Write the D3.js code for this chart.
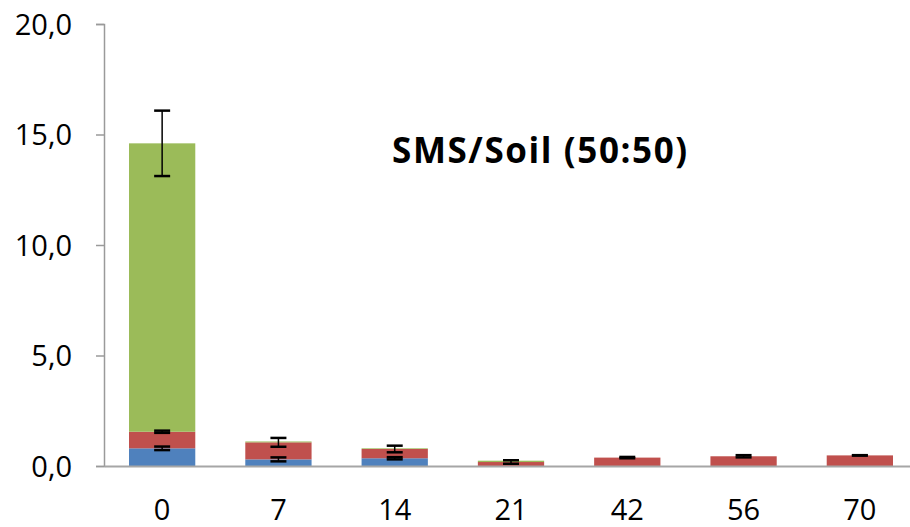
<!DOCTYPE html>
<html>
<head>
<meta charset="utf-8">
<script src="https://cdn.jsdelivr.net/npm/d3@7/dist/d3.min.js"></script>
<style>
  html, body { margin: 0; padding: 0; background: #fff; }
  svg { display: block; }
</style>
</head>
<body>
<svg id="chart" width="910" height="527"></svg>
<script>
const categories = ["0", "7", "14", "21", "42", "56", "70"];
const blueValues  = [0.80, 0.30, 0.35, 0.00, 0.00, 0.00, 0.00];
const redValues   = [0.75, 0.77, 0.42, 0.18, 0.38, 0.44, 0.48];
const greenValues = [13.05, 0.04, 0.03, 0.06, 0.00, 0.00, 0.00];
const blueErr  = [0.08, 0.09, 0.05, 0.00, 0.00, 0.00, 0.00];
const redErr   = [0.05, 0.20, 0.15, 0.08, 0.03, 0.05, 0.01];
const greenErr = [1.48, 0.00, 0.00, 0.00, 0.00, 0.00, 0.00];
const yTicks = [0, 5, 10, 15, 20];
const title = "SMS/Soil (50:50)";

const seriesNames = ["blue", "red", "green"];
const colors = { blue: "#4F81BD", red: "#C0504D", green: "#9BBB59" };
const errs = { blue: blueErr, red: redErr, green: greenErr };

const table = categories.map((c, i) => ({
  cat: c, blue: blueValues[i], red: redValues[i], green: greenValues[i]
}));

const svg = d3.select("#chart");
const x = d3.scaleBand().domain(categories).range([104, 918]).paddingInner(0.43).paddingOuter(0.215);
const y = d3.scaleLinear().domain([0, 20]).range([466, 24]);

const stack = d3.stack().keys(seriesNames)(table);

// bars
svg.append("g").selectAll("g").data(stack).join("g")
  .attr("fill", d => colors[d.key])
  .selectAll("rect").data(d => d).join("rect")
  .attr("x", d => x(d.data.cat))
  .attr("width", x.bandwidth())
  .attr("y", d => y(d[1]))
  .attr("height", d => Math.max(0, y(d[0]) - y(d[1])));

// axes
const yAxis = d3.axisLeft(y).tickValues(yTicks).tickSize(8)
  .tickFormat(d => d3.format(".1f")(d).replace(".", ","));
const gy = svg.append("g").attr("transform", "translate(104,0)").call(yAxis);
gy.select(".domain").attr("stroke", "#9a9a9a").attr("stroke-width", 1.5);
gy.selectAll(".tick line").attr("stroke", "#9a9a9a").attr("stroke-width", 1.5);
gy.selectAll(".tick text").attr("x", -32).attr("dy", "0.36em")
  .attr("font-family", "'Open Sans', sans-serif").attr("font-size", 29).attr("fill", "#000");

const xAxis = d3.axisBottom(x).tickSize(0).tickSizeOuter(0);
const gx = svg.append("g").attr("transform", "translate(0,466)").call(xAxis);
gx.select(".domain").attr("stroke", "#a6a6a6").attr("stroke-width", 2.2);
gx.selectAll(".tick text").attr("y", 54).attr("dy", "0")
  .attr("font-family", "'Open Sans', sans-serif").attr("font-size", 29).attr("fill", "#000");

// error bars
const eb = svg.append("g").attr("stroke", "#000").attr("stroke-width", 1.5);
stack.forEach(s => {
  s.forEach((d, i) => {
    const e = errs[s.key][i];
    if (e <= 0) return;
    const cx = x(d.data.cat) + x.bandwidth() / 2;
    const top = y(d[1] + e), bot = y(d[1] - e);
    eb.append("line").attr("x1", cx).attr("x2", cx).attr("y1", top).attr("y2", bot);
    eb.append("line").attr("x1", cx - 8).attr("x2", cx + 8).attr("y1", top).attr("y2", top).attr("stroke-width", 2.5);
    eb.append("line").attr("x1", cx - 8).attr("x2", cx + 8).attr("y1", bot).attr("y2", bot).attr("stroke-width", 2.5);
  });
});

// title
svg.append("text").attr("x", 392).attr("y", 163).attr("text-anchor", "start")
  .attr("font-family", "'Open Sans', sans-serif").attr("font-weight", "bold")
  .attr("font-size", 35).attr("letter-spacing", 1.6).attr("fill", "#000").text(title);
</script>
</body>
</html>
